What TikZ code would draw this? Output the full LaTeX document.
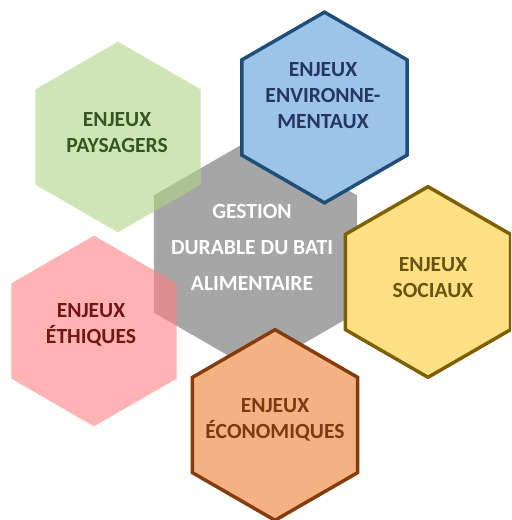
\documentclass[tikz,border=0pt]{standalone}
\usepackage{fontspec}
\setmainfont{Carlito}
\usepackage{tikz}
\usetikzlibrary{shapes.geometric}

\definecolor{paysfill}{RGB}{177,212,132}
\definecolor{paystext}{RGB}{55,86,35}
\definecolor{envfill}{RGB}{157,195,230}
\definecolor{envline}{RGB}{31,78,121}
\definecolor{envtext}{RGB}{35,55,95}
\definecolor{socfill}{RGB}{255,224,132}
\definecolor{socline}{RGB}{127,96,0}
\definecolor{soctext}{RGB}{105,84,15}
\definecolor{ethfill}{RGB}{255,128,128}
\definecolor{ethtext}{RGB}{112,22,22}
\definecolor{ecofill}{RGB}{244,177,131}
\definecolor{ecoline}{RGB}{132,60,12}
\definecolor{ecotext}{RGB}{125,58,18}
\definecolor{gestfill}{RGB}{166,166,166}

\begin{document}
\begin{tikzpicture}[x=0.75pt, y=-0.75pt,
    hexa/.style={regular polygon, regular polygon sides=6, shape border rotate=30,
      inner sep=0pt, minimum size=143pt},
    bigtext/.style={font=\fontsize{16.2}{19.5}\selectfont\bfseries, align=center}]
  \clip (0,0) rectangle (511,520);
  \useasboundingbox (0,0) rectangle (511,520);

  \node[hexa, minimum size=176pt, fill=gestfill] (gestion) at (255.5,254) {};
  \node[hexa, fill=paysfill, fill opacity=0.6] (paysagers) at (118,137) {};
  \node[hexa, fill=ethfill, fill opacity=0.6] (ethiques) at (94,331) {};
  \node[hexa, fill=envfill, draw=envline, line width=2.6pt] (environ) at (324.5,107.5) {};
  \node[hexa, fill=socfill, draw=socline, line width=2.6pt] (sociaux) at (428,282) {};
  \node[hexa, fill=ecofill, draw=ecoline, line width=2.6pt] (economiques) at (275,425) {};

  \node[bigtext, text=white, font=\fontsize{16.2}{27}\selectfont\bfseries] (gestion-txt) at (252,247)
    {GESTION\\DURABLE DU BATI\\ALIMENTAIRE};
  \node[bigtext, text=paystext] (paysagers-txt) at (117,133) {ENJEUX\\PAYSAGERS};
  \node[bigtext, text=ethtext] (ethiques-txt) at (91,325) {ENJEUX\\ÉTHIQUES};
  \node[bigtext, text=envtext] (environ-txt) at (323,95.5) {ENJEUX\\ENVIRONNE-\\MENTAUX};
  \node[bigtext, text=soctext] (sociaux-txt) at (433,277.5) {ENJEUX\\SOCIAUX};
  \node[bigtext, text=ecotext] (economiques-txt) at (275,420) {ENJEUX\\ÉCONOMIQUES};
\end{tikzpicture}
\end{document}
